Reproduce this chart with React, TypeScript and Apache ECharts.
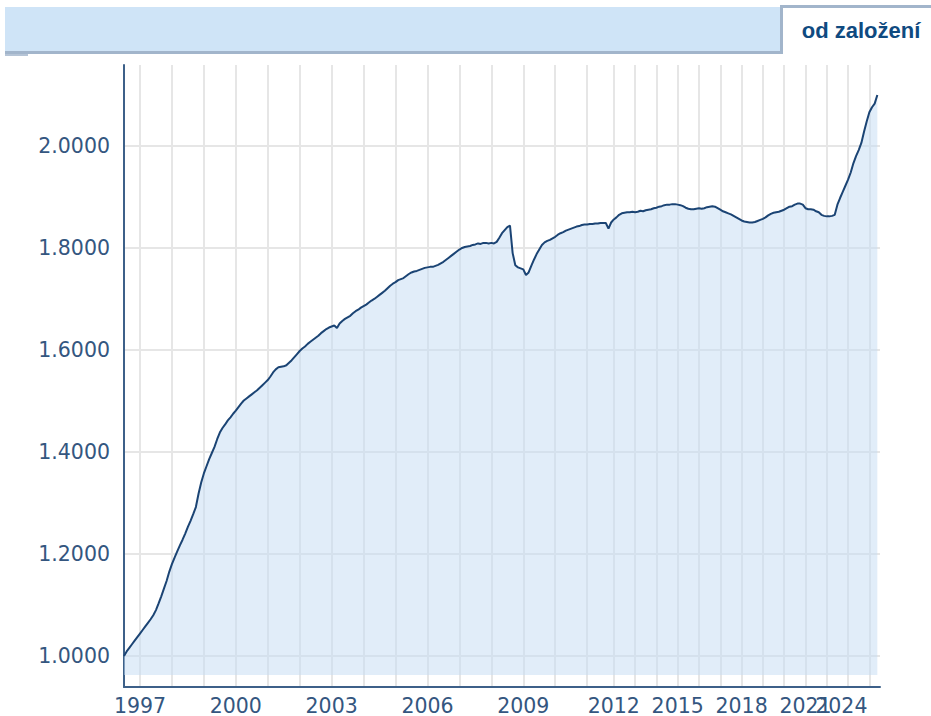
import React, { useEffect, useRef } from "react";
import * as echarts from "echarts";

// ---- data ----
const monthlyDates = ["01-01", "02-01", "03-01", "04-01", "05-01", "06-01", "07-01", "08-01", "09-01", "10-01", "11-01", "12-01"];
const sparseDates = ["01-01", "02-15", "04-01", "05-15", "07-01", "08-15", "10-01", "11-15"];
const dates1996 = ["1996-07-01", "1996-08-01", "1996-09-01", "1996-10-01", "1996-11-01", "1996-12-01"];
const dates2011 = ["2011-01-01", "2011-02-06", "2011-03-15", "2011-04-20", "2011-05-27", "2011-07-03", "2011-08-09", "2011-09-15", "2011-10-22", "2011-11-28"];
const dates2024 = ["2024-01-01", "2024-02-15", "2024-04-01", "2024-05-15", "2024-07-01"];
const monthlyYears = [1997, 1998, 1999, 2000, 2001, 2002, 2003, 2004, 2005, 2006, 2007, 2008, 2009, 2010];
const sparseYears = [2012, 2013, 2014, 2015, 2016, 2017, 2018, 2019, 2020, 2021, 2022, 2023];

const categories: string[] = [
  ...dates1996,
  ...monthlyYears.flatMap((y) => monthlyDates.map((d) => `${y}-${d}`)),
  ...dates2011,
  ...sparseYears.flatMap((y) => sparseDates.map((d) => `${y}-${d}`)),
  ...dates2024,
];

// NAV 1996-07 .. 2002-12
const navEarly = [
  1.000, 1.009, 1.016, 1.023, 1.030, 1.037,
  1.044, 1.051, 1.058, 1.065, 1.072, 1.080, 1.090, 1.103, 1.117, 1.132, 1.147, 1.165,
  1.180, 1.193, 1.205, 1.217, 1.228, 1.240, 1.253, 1.265, 1.278, 1.292, 1.318, 1.340,
  1.358, 1.372, 1.386, 1.398, 1.410, 1.425, 1.438, 1.447, 1.454, 1.462, 1.468, 1.475,
  1.481, 1.488, 1.495, 1.501, 1.505, 1.509, 1.513, 1.517, 1.521, 1.526, 1.531, 1.536,
  1.541, 1.548, 1.556, 1.562, 1.566, 1.567, 1.568, 1.570, 1.575, 1.580, 1.586, 1.592,
  1.598, 1.603, 1.607, 1.612, 1.616, 1.620, 1.624, 1.628, 1.633, 1.637, 1.641, 1.644,
];
// NAV 2003-01 .. 2011-11
const navMid = [
  1.646, 1.648, 1.643, 1.652, 1.657, 1.661, 1.664, 1.667, 1.672, 1.676, 1.679, 1.683,
  1.686, 1.689, 1.693, 1.697, 1.700, 1.704, 1.708, 1.712, 1.716, 1.721, 1.726, 1.730,
  1.733, 1.737, 1.739, 1.741, 1.745, 1.749, 1.752, 1.754, 1.755, 1.757, 1.759, 1.761,
  1.762, 1.763, 1.763, 1.765, 1.767, 1.770, 1.773, 1.777, 1.781, 1.785, 1.789, 1.793,
  1.797, 1.800, 1.802, 1.803, 1.804, 1.806, 1.807, 1.809, 1.808, 1.810, 1.810, 1.809,
  1.810, 1.809, 1.812, 1.820, 1.829, 1.835, 1.841, 1.844, 1.790, 1.766, 1.762, 1.760,
  1.758, 1.747, 1.752, 1.765, 1.777, 1.788, 1.797, 1.806, 1.811, 1.814, 1.816, 1.819,
  1.822, 1.826, 1.829, 1.831, 1.834, 1.836, 1.838, 1.840, 1.842, 1.843, 1.845, 1.846,
  1.846, 1.847, 1.847, 1.848, 1.848, 1.849, 1.849, 1.849, 1.838, 1.850,
];
// NAV 2012 .. 2024-05
const navLate = [
  1.856, 1.860, 1.865, 1.868, 1.869, 1.870, 1.870, 1.871,
  1.870, 1.871, 1.873, 1.872, 1.874, 1.875, 1.876, 1.878,
  1.879, 1.881, 1.882, 1.884, 1.885, 1.885, 1.886, 1.886,
  1.885, 1.884, 1.882, 1.879, 1.877, 1.876, 1.876, 1.877,
  1.878, 1.877, 1.878, 1.880, 1.881, 1.882, 1.881, 1.878,
  1.875, 1.872, 1.870, 1.868, 1.866, 1.863, 1.860, 1.857,
  1.854, 1.852, 1.851, 1.850, 1.850, 1.851, 1.853, 1.855,
  1.857, 1.860, 1.864, 1.867, 1.869, 1.870, 1.871, 1.873,
  1.875, 1.878, 1.881, 1.882, 1.885, 1.887, 1.887, 1.885,
  1.878, 1.876, 1.876, 1.875, 1.872, 1.870, 1.865, 1.863,
  1.862, 1.862, 1.863, 1.865, 1.885, 1.898, 1.910, 1.922,
  1.934, 1.948, 1.966, 1.980, 1.992, 2.006, 2.028, 2.048,
  2.066, 2.076, 2.083, 2.100,
];
const navValues = [...navEarly, ...navMid, ...navLate];

const tabLabel = "od založení";
const firstLabelYear = 1997;
const labelEveryYears = 3;
const lastLabelYear = 2024;

export default function App() {
  const ref = useRef<HTMLDivElement>(null);
  useEffect(() => {
    if (!ref.current) return;
    const chart = echarts.init(ref.current, null, { renderer: "svg" });
    const isYearStart = (v: string) => v.endsWith("-01-01");
    const yearOf = (v: string) => +v.slice(0, 4);
    const isLabelYear = (v: string) => {
      const y = yearOf(v);
      return isYearStart(v) && y >= firstLabelYear && (y - firstLabelYear) % labelEveryYears === 0;
    };
    const labelFont = {
      color: "#34567f",
      fontFamily: "DejaVu Sans",
      fontSize: 20.5,
      margin: 8,
    };
    chart.setOption({
      animation: false,
      backgroundColor: "#ffffff",
      grid: { left: 124, right: 51, top: 65, bottom: 29, containLabel: false, outerBoundsMode: "none" },
      xAxis: [
        {
          type: "category",
          data: categories,
          boundaryGap: false,
          axisLine: { lineStyle: { color: "#3d6089", width: 2 } },
          axisTick: { show: false },
          axisLabel: {
            ...labelFont,
            interval: (_i: number, v: string) => isLabelYear(v) && yearOf(v) !== lastLabelYear,
            formatter: (v: string) => v.slice(0, 4),
          },
          splitLine: {
            show: true,
            interval: (_i: number, v: string) => isYearStart(v),
            lineStyle: { color: "#e6e6e6", width: 2 },
          },
        },
        {
          // carries only the last year label, pushed left to stay inside the chart
          type: "category",
          data: categories,
          boundaryGap: false,
          position: "bottom",
          axisLine: { show: false },
          axisTick: { show: false },
          splitLine: { show: false },
          axisLabel: {
            ...labelFont,
            interval: (_i: number, v: string) => isLabelYear(v) && yearOf(v) === lastLabelYear,
            formatter: (v: string) => `{y|${v.slice(0, 4)}}{gap|}`,
            rich: {
              y: { color: "#34567f", fontFamily: "DejaVu Sans", fontSize: 20.5 },
              gap: { width: 56, height: 10 },
            },
          },
        },
      ],
      yAxis: {
        type: "value",
        min: 0.9392,
        max: 2.1588,
        splitNumber: 6,
        axisLine: { show: true, lineStyle: { color: "#3d6089", width: 2 } },
        axisTick: { show: false },
        axisLabel: {
          formatter: (v: number) => v.toFixed(4),
          showMinLabel: false,
          showMaxLabel: false,
          color: "#34567f",
          fontFamily: "DejaVu Sans",
          fontSize: 20.5,
          margin: 14,
        },
        splitLine: {
          show: true,
          showMinLine: false,
          showMaxLine: false,
          lineStyle: { color: "#e6e6e6", width: 2 },
        },
      },
      series: [
        {
          type: "line",
          xAxisIndex: 0,
          data: navValues,
          symbol: "none",
          lineStyle: { color: "#1b4474", width: 2 },
          areaStyle: { color: "rgba(196, 220, 243, 0.5)", origin: 0.9627, opacity: 1 },
        },
      ],
      graphic: [
        { type: "rect", shape: { x: 5, y: 7, width: 775, height: 45 }, style: { fill: "#cfe4f7" } },
        { type: "rect", shape: { x: 5, y: 51, width: 775, height: 3 }, style: { fill: "#a2b5cb" } },
        { type: "rect", shape: { x: 5, y: 54, width: 23, height: 2 }, style: { fill: "#b5c4d6" } },
        { type: "rect", shape: { x: 780, y: 5, width: 151, height: 3 }, style: { fill: "#a2b5cb" } },
        { type: "rect", shape: { x: 780, y: 5, width: 3, height: 49 }, style: { fill: "#a2b5cb" } },
        {
          type: "text",
          x: 861,
          y: 30,
          style: {
            text: tabLabel,
            fill: "#0f4a80",
            font: "bold 22px 'Liberation Sans', Arial, sans-serif",
            align: "center",
            verticalAlign: "middle",
          },
        },
      ],
    });
    return () => chart.dispose();
  }, []);
  return <div ref={ref} style={{ position: "fixed", left: 0, top: 0, width: 931, height: 716 }} />;
}
